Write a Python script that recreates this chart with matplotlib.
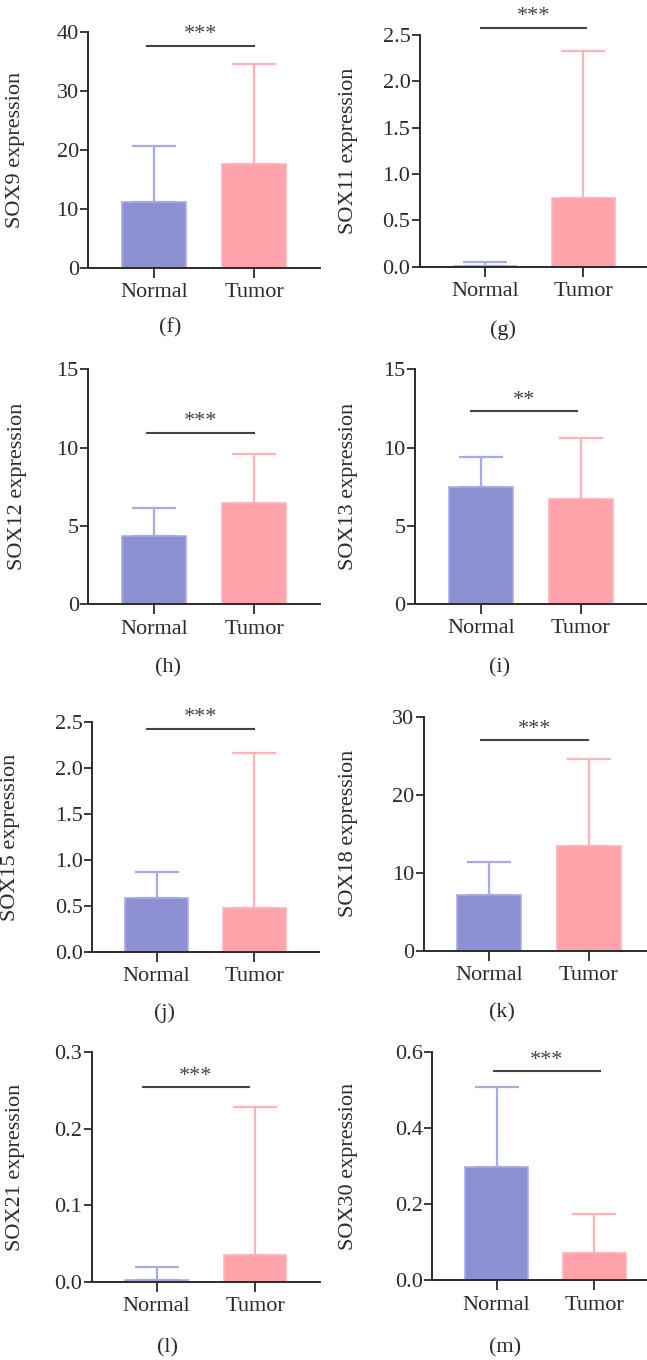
import matplotlib
matplotlib.use("Agg")
import matplotlib.pyplot as plt

plt.rcParams['font.family'] = ['Liberation Serif', 'DejaVu Serif']

# data
groups = ["Normal", "Tumor"]
genes = ["SOX9", "SOX11", "SOX12", "SOX13", "SOX15", "SOX18", "SOX21", "SOX30"]
panel_tags = ["(f)", "(g)", "(h)", "(i)", "(j)", "(k)", "(l)", "(m)"]
means = [[11.2, 17.7], [0.01, 0.74], [4.38, 6.47], [7.46, 6.73],
         [0.59, 0.48], [7.2, 13.5], [0.003, 0.035], [0.297, 0.073]]
sds = [[9.5, 16.9], [0.044, 1.59], [1.79, 3.13], [1.93, 3.87],
       [0.28, 1.69], [4.2, 11.1], [0.0166, 0.1936], [0.213, 0.102]]
ymax = [40, 2.5, 15, 15, 2.5, 30, 0.3, 0.6]
ystep = [10, 0.5, 5, 5, 0.5, 10, 0.1, 0.2]
ydec = [0, 1, 0, 0, 1, 0, 1, 1]
stars = ["***", "***", "***", "**", "***", "***", "***", "***"]
sig_y = [37.7, 2.58, 10.95, 12.34, 2.43, 27.0, 0.2547, 0.551]
sig_x = [(-0.07, 1.0), (-0.04, 1.03), (-0.07, 1.0), (-0.1, 0.96),
         (-0.1, 1.0), (-0.08, 0.99), (-0.14, 0.94), (-0.03, 1.06)]

# layout in pixels: first tick x, tick spacing, top of y axis, bottom of y axis
W, H = 647, 1360
layout = [(154.3, 99.7, 32.3, 267.7), (485, 98.3, 35, 266.7),
          (154.3, 99.7, 369.3, 604.3), (481, 99.7, 369.3, 604),
          (156.7, 97.6, 722.3, 951.7), (489.3, 99.4, 716.7, 951),
          (156.7, 98.3, 1052.3, 1282), (496.7, 97.6, 1052.3, 1280.3)]
ylab_x = [25, 358, 27, 358, 20, 358, 25, 358]
tag_pos = [(170, 328), (503, 330), (168, 668), (500, 668),
           (165, 1013), (502, 1013), (167, 1348), (505, 1348)]

bar_col = ["#8e90d4", "#ffa3aa"]
err_col = ["#a9abe8", "#ffb3b9"]
ink = "#2b2b2b"
xlo, xhi = -0.66, 1.66

fig = plt.figure(figsize=(W / 100, H / 100), dpi=100)

for i in range(8):
    t0, sp, ytop, ybot = layout[i]
    left = t0 + xlo * sp
    width = (xhi - xlo) * sp
    ax = fig.add_axes([left / W, 1 - ybot / H, width / W, (ybot - ytop) / H])

    for j in range(2):
        ax.bar(j, means[i][j], width=0.64, color=bar_col[j],
               edgecolor=err_col[j], linewidth=1.2, zorder=2)
        ax.errorbar(j, means[i][j], yerr=[[0], [sds[i][j]]], fmt='none',
                    ecolor=err_col[j], elinewidth=1.6, capsize=16,
                    capthick=1.6, zorder=1)

    ax.set_xlim(xlo, xhi)
    ax.set_ylim(0, ymax[i])
    n = int(round(ymax[i] / ystep[i]))
    ticks = [k * ystep[i] for k in range(n + 1)]
    ax.set_yticks(ticks)
    ax.set_yticklabels([f"{v:.{ydec[i]}f}" for v in ticks])
    ax.set_xticks([0, 1])
    ax.set_xticklabels(groups, fontsize=16)
    ax.tick_params(axis='y', labelsize=16, length=6, width=1.3,
                   colors=ink, pad=1)
    ax.tick_params(axis='x', length=7, width=1.3, colors=ink, pad=4)
    for s in ["top", "right"]:
        ax.spines[s].set_visible(False)
    for s in ["left", "bottom"]:
        ax.spines[s].set_color(ink)
        ax.spines[s].set_linewidth(1.4)

    ax.set_ylabel(f"{genes[i]} expression", fontsize=16, color=ink)
    ax.yaxis.set_label_coords((ylab_x[i] - left) / width, 0.5)

    x0, x1 = sig_x[i]
    ax.plot([x0, x1], [sig_y[i], sig_y[i]], color="#444444", lw=1.5,
            clip_on=False)
    ax.annotate(stars[i], xy=((x0 + x1) / 2, sig_y[i]), xytext=(0, 1),
                textcoords="offset points", ha="center", va="bottom",
                fontsize=16, color="#444444", annotation_clip=False)

    fig.text(tag_pos[i][0] / W, 1 - tag_pos[i][1] / H, panel_tags[i],
             ha="center", va="center", fontsize=16, color=ink)

fig.savefig("out.png", dpi=100)
